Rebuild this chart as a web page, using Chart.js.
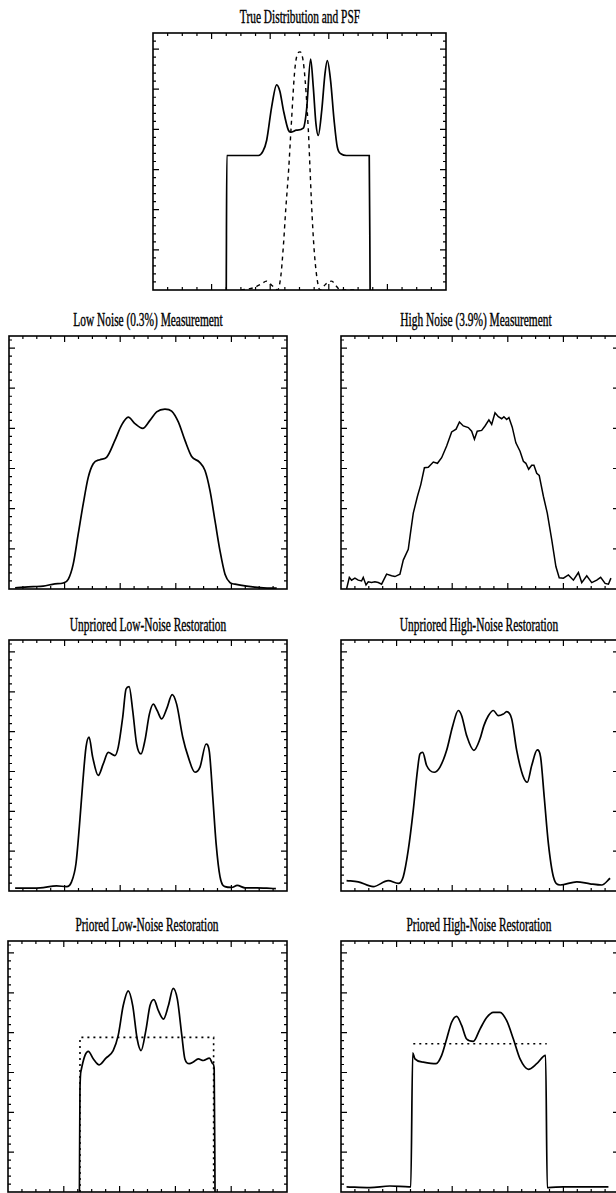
<!DOCTYPE html>
<html>
<head>
<meta charset="utf-8">
<script src="https://cdn.jsdelivr.net/npm/chart.js@4.4.1/dist/chart.umd.min.js"></script>
<style>
    html, body { margin: 0; padding: 0; background: #fff; }
    body { position: relative; width: 616px; height: 1193px; overflow: hidden; }
    .panel { position: absolute; }
    .title {
        position: absolute;
        white-space: nowrap;
        font-family: "Liberation Serif", "DejaVu Serif", serif;
        font-size: 19px;
        color: #000;
        -webkit-text-stroke: 0.4px #000;
        transform: translate(-50%, -50%) scaleX(0.6);
    }
</style>
</head>
<body>
<script>
// True distribution and PSF
const trueX = [25.0, 25.2, 36, 37.5, 38.8, 40.5, 42.2, 43.3, 44.5, 46.2, 47, 49, 51.3, 52.4, 53.8, 54.7, 55.6, 56.4, 57.6, 58.7, 59.5, 60.6, 61.8, 62.9, 64.4, 66, 73.8, 74.1];
const trueY = [0, 3.35, 3.35, 3.45, 3.73, 4.56, 5.11, 4.95, 4.48, 3.98, 3.93, 3.98, 4.03, 4.48, 5.75, 5.06, 4.15, 3.85, 4.48, 5.39, 5.71, 5.22, 4.23, 3.56, 3.38, 3.35, 3.35, 0];
const psfX = [30, 34, 37, 38.7, 40.5, 42.5, 43.6, 44.5, 45.3, 46.3, 47.1, 48.5, 50.2, 51.5, 53.0, 53.6, 54.2, 55.0, 55.9, 57, 59, 61, 62.5, 64, 70];
const psfY = [0, 0.05, 0.15, 0.22, 0.12, 0, 0.33, 1.1, 2.0, 3.0, 4.0, 5.56, 5.93, 5.56, 4.0, 3.0, 2.0, 1.0, 0.33, 0, 0.15, 0.22, 0.1, 0, 0];

// Measurements
const lowMeasX = [2.2, 8.7, 12.3, 16.5, 19.5, 21.3, 23.1, 24.9, 26.7, 28.5, 30.3, 32.7, 35.1, 38.1, 40.5, 42.9, 45.3, 48.1, 50.7, 53.1, 56.1, 58.5, 60.9, 63.3, 65.7, 68.5, 70.5, 72.3, 74.1, 75.9, 77.7, 79.5, 81.3, 85.5, 91.5, 96.3];
const lowMeasY = [0.03, 0.06, 0.07, 0.13, 0.15, 0.24, 0.62, 1.37, 2.12, 2.78, 3.12, 3.22, 3.28, 3.7, 4.08, 4.28, 4.12, 4.0, 4.2, 4.41, 4.48, 4.43, 4.16, 3.7, 3.3, 3.16, 2.95, 2.45, 1.7, 0.95, 0.37, 0.16, 0.12, 0.07, 0.03, 0.02];
const highMeasX = [2.0, 3.0, 3.8, 5.0, 6.2, 7.4, 8.0, 9.0, 9.8, 11.0, 12.2, 13.4, 14.6, 16.4, 18.2, 19.4, 21.2, 22.4, 24.2, 25.0, 26.0, 27.5, 28.7, 30.0, 31.4, 33.2, 34.7, 36.2, 38.0, 39.8, 41.4, 42.6, 44.0, 45.8, 47.0, 48.0, 49.0, 50.6, 51.8, 53.2, 54.2, 55.4, 56.6, 57.8, 58.6, 59.6, 60.4, 61.6, 62.9, 64.4, 65.6, 66.5, 67.5, 68.6, 69.4, 70.4, 71.3, 72.8, 74.2, 75.8, 77.3, 78.5, 80.0, 81.8, 83.6, 85.4, 86.6, 88.4, 90.2, 92.0, 93.4, 95.0, 96.2, 97.1];
const highMeasY = [0, 0.29, 0.22, 0.27, 0.22, 0.2, 0.29, 0.1, 0.18, 0.16, 0.18, 0.16, 0.12, 0.37, 0.33, 0.31, 0.37, 0.72, 0.99, 1.4, 1.89, 2.31, 2.6, 3.02, 3.03, 3.16, 3.13, 3.27, 3.56, 3.91, 3.98, 4.16, 4.06, 4.02, 3.93, 3.73, 3.93, 3.95, 4.06, 4.21, 4.1, 4.39, 4.29, 4.24, 4.29, 4.22, 4.27, 4.03, 3.64, 3.43, 3.18, 3.13, 2.98, 3.08, 3.08, 2.88, 2.83, 2.31, 1.89, 1.23, 0.56, 0.28, 0.27, 0.35, 0.22, 0.41, 0.16, 0.33, 0.16, 0.22, 0.29, 0.14, 0.12, 0.27];

// Unpriored restorations
const upLowX = [2.2, 11.2, 17.1, 20.7, 22.5, 24.1, 25.3, 26.5, 27.7, 28.8, 30.1, 32.1, 33.9, 35.7, 38.1, 39.3, 40.9, 42.1, 43.2, 44.5, 45.9, 47.5, 48.9, 50.5, 51.9, 53.3, 54.9, 56.7, 58.7, 60.3, 62.5, 64.5, 66.9, 68.7, 70.9, 72.1, 73.3, 74.5, 75.9, 77.7, 80.1, 82.1, 84.9, 89.1, 92.7, 96.0];
const upLowY = [0.07, 0.08, 0.13, 0.11, 0.23, 0.69, 1.61, 2.69, 3.61, 3.86, 3.36, 2.9, 3.19, 3.48, 3.4, 3.61, 4.36, 5.07, 5.13, 4.53, 3.69, 3.44, 3.78, 4.44, 4.69, 4.53, 4.32, 4.57, 4.93, 4.69, 3.86, 3.36, 2.98, 3.11, 3.69, 3.48, 2.36, 1.19, 0.36, 0.11, 0.09, 0.14, 0.08, 0.08, 0.07, 0.06];
const upHighX = [2.0, 6.2, 11.6, 17.0, 20.6, 22.4, 24.2, 26.0, 27.5, 28.4, 29.4, 30.8, 33.5, 35.6, 38.0, 40.2, 42.2, 43.4, 45.2, 47.8, 50.0, 51.4, 53.0, 54.8, 56.6, 58.4, 59.6, 61.4, 63.2, 65.4, 67.0, 68.6, 70.6, 71.8, 73.1, 74.6, 76.4, 78.8, 84.8, 89.6, 93.8, 96.8];
const upHighY = [0.26, 0.23, 0.11, 0.26, 0.19, 0.36, 1.03, 2.03, 3.03, 3.44, 3.48, 3.15, 2.98, 3.11, 3.53, 4.15, 4.53, 4.4, 3.9, 3.53, 3.82, 4.15, 4.4, 4.53, 4.4, 4.44, 4.5, 4.32, 3.53, 2.9, 2.73, 3.15, 3.54, 3.36, 2.36, 1.19, 0.36, 0.15, 0.23, 0.18, 0.15, 0.32];

// Priored restorations and priors
const prLowX = [25.6, 25.8, 26.2, 27.6, 28.8, 30.6, 32.7, 35.1, 37.7, 39.5, 41.3, 43.1, 44.7, 46.3, 47.7, 49.4, 50.9, 52.3, 53.9, 55.7, 57.5, 59.2, 60.7, 62.3, 63.4, 65.0, 66.4, 68.2, 70.0, 72.2, 73.4, 73.9, 74.2];
const prLowY = [0, 2.59, 3.05, 3.43, 3.53, 3.34, 3.19, 3.36, 3.55, 3.93, 4.68, 5.05, 4.68, 3.84, 3.55, 4.05, 4.68, 4.83, 4.55, 4.34, 4.68, 5.11, 4.84, 3.93, 3.34, 3.22, 3.26, 3.34, 3.3, 3.36, 3.22, 3.1, 0];
const priorLowX = [25.8, 25.8, 73.7, 73.7];
const priorLowY = [0, 3.88, 3.88, 0];
const prHighX = [2.0, 10.4, 17.6, 24.5, 25.1, 25.8, 26.6, 29.6, 34.2, 36.2, 38.0, 39.8, 41.6, 43.4, 45.2, 47.6, 50.0, 52.4, 54.8, 57.2, 59.6, 62.0, 64.4, 67.4, 70.4, 73.6, 74.2, 74.6, 80.0, 88.4, 96.2];
const prHighY = [0.13, 0.11, 0.15, 0.13, 0.13, 3.49, 3.34, 3.26, 3.22, 3.43, 3.84, 4.26, 4.41, 4.18, 3.84, 3.78, 4.09, 4.38, 4.51, 4.51, 4.3, 3.84, 3.34, 3.08, 3.22, 3.43, 0.11, 0.11, 0.13, 0.13, 0.13];
const priorHighX = [26.0, 74.0];
const priorHighY = [3.72, 3.72];

const titles = [
    "True Distribution and PSF",
    "Low Noise (0.3%) Measurement",
    "High Noise (3.9%) Measurement",
    "Unpriored Low-Noise Restoration",
    "Unpriored High-Noise Restoration",
    "Priored Low-Noise Restoration",
    "Priored High-Noise Restoration",
];

// axis ranges and tick spacing
const xRange = [0, 100];
const xMajor = 20, xMinor = 5;
const yMajor = 1, yMinor = 0.2;

function pts(xs, ys) {
    return xs.map((x, i) => ({ x: x, y: ys[i] }));
}

const solid = { borderColor: "#000", borderWidth: 1.7, cubicInterpolationMode: "monotone" };
const dashed = { borderColor: "#000", borderWidth: 1.4, borderDash: [4, 4], cubicInterpolationMode: "monotone" };
const dotted = { borderColor: "#000", borderWidth: 1.6, borderDash: [2, 4], tension: 0 };
const noisy = { borderColor: "#000", borderWidth: 1.5, tension: 0 };

// box = [left, top, width, height]; title centre = [x, y]
const panels = [
    { box: [153, 33, 293, 257], yMax: 6.4, tc: [300, 17], sets: [{ ...solid, data: pts(trueX, trueY) }, { ...dashed, data: pts(psfX, psfY) }] },
    { box: [9, 336, 278, 253], yMax: 6.3, tc: [148, 320], sets: [{ ...solid, data: pts(lowMeasX, lowMeasY) }] },
    { box: [341, 336, 278, 253], yMax: 6.3, tc: [476, 320], sets: [{ ...noisy, data: pts(highMeasX, highMeasY) }] },
    { box: [9, 640, 278, 251], yMax: 6.3, tc: [148, 625], sets: [{ ...solid, data: pts(upLowX, upLowY) }] },
    { box: [341, 640, 278, 251], yMax: 6.3, tc: [479, 625], sets: [{ ...solid, data: pts(upHighX, upHighY) }] },
    { box: [8, 941, 279, 251], yMax: 6.3, tc: [147, 925], sets: [{ ...solid, data: pts(prLowX, prLowY) }, { ...dotted, data: pts(priorLowX, priorLowY) }] },
    { box: [341, 941, 278, 251], yMax: 6.3, tc: [479, 925], sets: [{ ...solid, data: pts(prHighX, prHighY) }, { ...dotted, data: pts(priorHighX, priorHighY) }] },
];

// box outline with inward ticks on all four sides
const frameTicks = {
    id: "frameTicks",
    afterDraw(chart) {
        const { ctx, chartArea: a, scales: { x, y } } = chart;
        ctx.save();
        ctx.strokeStyle = "#000";
        ctx.lineWidth = 1.6;
        ctx.strokeRect(a.left, a.top, a.right - a.left, a.bottom - a.top);
        ctx.lineWidth = 1.2;
        ctx.beginPath();
        const nx = Math.round((x.max - x.min) / xMinor);
        for (let i = 1; i < nx; i++) {
            const px = x.getPixelForValue(x.min + i * xMinor);
            const len = i % Math.round(xMajor / xMinor) === 0 ? 6 : 3;
            ctx.moveTo(px, a.bottom); ctx.lineTo(px, a.bottom - len);
            ctx.moveTo(px, a.top); ctx.lineTo(px, a.top + len);
        }
        const per = Math.round(yMajor / yMinor);
        for (let i = 1; i * yMinor < y.max - 1e-6; i++) {
            const py = y.getPixelForValue(i * yMinor);
            const len = i % per === 0 ? 6 : 3;
            ctx.moveTo(a.left, py); ctx.lineTo(a.left + len, py);
            ctx.moveTo(a.right, py); ctx.lineTo(a.right - len, py);
        }
        ctx.stroke();
        ctx.restore();
    },
};

panels.forEach((p, k) => {
    const [l, t, w, h] = p.box;
    const wrap = document.createElement("div");
    wrap.className = "panel";
    wrap.style.left = (l - 2) + "px";
    wrap.style.top = (t - 2) + "px";
    wrap.style.width = (w + 4) + "px";
    wrap.style.height = (h + 4) + "px";
    const canvas = document.createElement("canvas");
    wrap.appendChild(canvas);
    document.body.appendChild(wrap);

    const title = document.createElement("div");
    title.className = "title";
    title.textContent = titles[k];
    title.style.left = p.tc[0] + "px";
    title.style.top = p.tc[1] + "px";
    document.body.appendChild(title);

    new Chart(canvas, {
        type: "line",
        data: { datasets: p.sets.map(s => ({ ...s, pointRadius: 0, fill: false })) },
        options: {
            responsive: true,
            maintainAspectRatio: false,
            animation: false,
            layout: { padding: 2 },
            plugins: { legend: { display: false }, tooltip: { enabled: false } },
            scales: {
                x: { type: "linear", min: xRange[0], max: xRange[1], display: false },
                y: { type: "linear", min: 0, max: p.yMax, display: false },
            },
        },
        plugins: [frameTicks],
    });
});
</script>
</body>
</html>
